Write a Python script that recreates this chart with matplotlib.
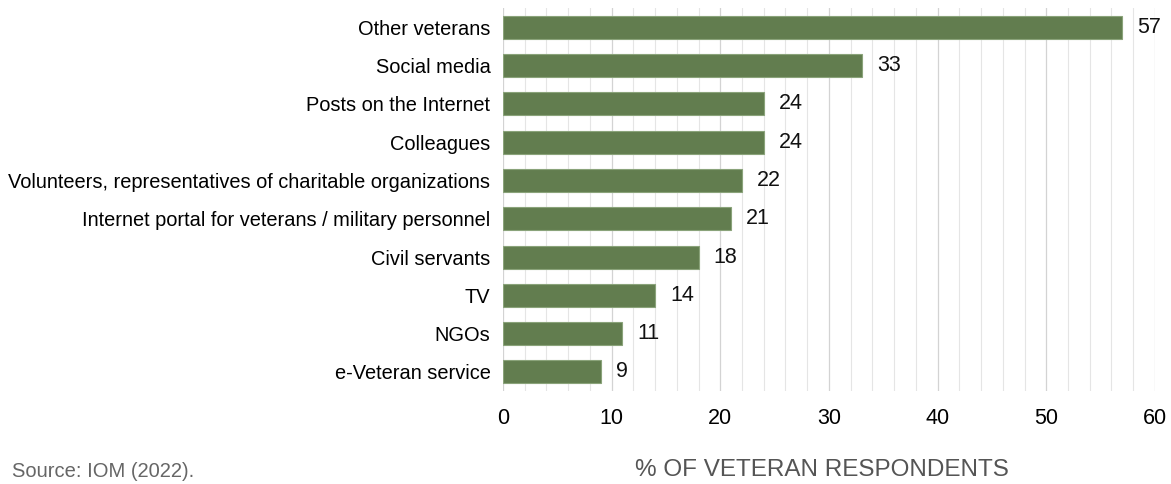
import matplotlib.pyplot as plt
import numpy as np

plt.rcParams['font.family'] = ['Liberation Sans', 'DejaVu Sans']

categories = ['Other veterans', 'Social media', 'Posts on the Internet', 'Colleagues',
              'Volunteers, representatives of charitable organizations',
              'Internet portal for veterans / military personnel',
              'Civil servants', 'TV', 'NGOs', 'e-Veteran service']
values = [57, 33, 24, 24, 22, 21, 18, 14, 11, 9]
xticks = [0, 10, 20, 30, 40, 50, 60]

fig = plt.figure(figsize=(11.71, 4.84), dpi=100)
ax = fig.add_axes([0.4295, 0.192, 0.5568, 0.791])

y = np.arange(len(categories))
ax.barh(y, values, height=0.6, color='#627d4f', edgecolor='#8aa37a', linewidth=0.8, zorder=3)
for yi, v in zip(y, values):
    ax.text(v + 1.4, yi, str(v), va='center', ha='left', fontsize=15.5, color='#111111')

ax.set_ylim(len(categories) - 0.5, -0.5)
ax.set_xlim(0, 60)
ax.set_yticks(y)
ax.set_yticklabels(categories, fontsize=14.4)
ax.set_xticks(xticks)
ax.set_xticklabels([str(t) for t in xticks], fontsize=15.5)
ax.set_xticks(np.arange(0, 61, 2), minor=True)
ax.grid(axis='x', which='minor', color='#e5e5e5', linewidth=0.8, zorder=0)
ax.grid(axis='x', which='major', color='#d3d3d3', linewidth=0.9, zorder=0)
ax.tick_params(axis='both', which='both', length=0)
ax.tick_params(axis='x', pad=12)
ax.tick_params(axis='y', pad=9)
for s in ax.spines.values():
    s.set_visible(False)

fig.text(0.702, 0.029, '% OF VETERAN RESPONDENTS', ha='center', va='center',
         fontsize=17.5, color='#555555')
fig.text(0.010, 0.006, 'Source: IOM (2022).', ha='left', va='bottom',
         fontsize=14.5, color='#666666')

fig.savefig('out.png', dpi=100)
